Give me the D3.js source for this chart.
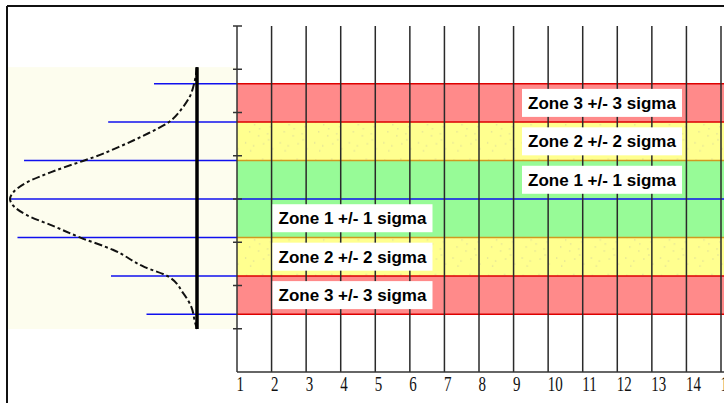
<!DOCTYPE html>
<html><head><meta charset="utf-8">
<script src="https://cdn.jsdelivr.net/npm/d3@7"></script>
<style>html,body{margin:0;padding:0;background:#fff;}svg{display:block;}</style>
</head><body>
<script>
// ---- data ----
const categories = [1,2,3,4,5,6,7,8,9,10,11,12,13,14,15];
const yTicks = [1,2,3,4,5,6,7,8];
const centerValue = 4;
const sigmaValue = 8/9;
// zone edges in sigma units (from -3 to +3)
const zoneEdgesSigma = [-3,-2,-1,0,1,2,3];
const zoneNames = ["Zone 3 +/- 3 sigma","Zone 2 +/- 2 sigma","Zone 1 +/- 1 sigma"];
// bands: [lowSigma, highSigma, zone]
const bandLow  = [-3,-2,-1,0,1,2];
const bandHigh = [-2,-1,0,1,2,3];
const bandZone = [3,2,1,1,2,3];
// labels: which band (by sigma low) and side
const labelBandLow = [2,1,0,-1,-2,-3];
const labelZone    = [3,2,1,1,2,3];
const labelSide    = ["right","right","right","left","left","left"];
// bell curve: sigma offset vs relative density
const curveSigma   = [3.43,3.01,2.65,2.39,1.97,1.71,1.35,1.09,0.99,0.70,0.42,0.16,0,-0.16,-0.42,-0.70,-1.01,-1.32,-1.77,-2.0,-2.44,-2.81,-3.22,-3.38];
const curveDensity = [0,0.015,0.04,0.075,0.16,0.26,0.42,0.55,0.61,0.78,0.915,0.985,1.0,0.985,0.91,0.77,0.62,0.45,0.28,0.16,0.075,0.03,0.01,0];
// reach of the blue guide lines at each edge (relative density units)
const guideReach = [0.27,0.46,0.96,1.0,0.925,0.475,0.23];

// ---- layout ----
const W = 724, H = 403;
const svg = d3.select("body").append("svg").attr("width",W).attr("height",H);
const x = d3.scaleLinear().domain([1,15]).range([237,721]);
const y = d3.scaleLinear().domain([0,8]).range([372,26]);
const ys = s => y(centerValue + s*sigmaValue);
const dx = d3.scaleLinear().domain([0,1]).range([197,10]);

const defs = svg.append("defs");
const pat = defs.append("pattern").attr("id","dots").attr("patternUnits","userSpaceOnUse").attr("width",34.57).attr("height",38.4);
pat.append("rect").attr("width",34.57).attr("height",38.4).attr("fill","#ffff8f");
[[4,6],[12,9],[20,5],[28,11],[7,16],[16,20],[25,18],[3,27],[11,30],[21,28],[30,33],[8,35],[17,13],[26,24]].forEach(p=>{
  pat.append("rect").attr("x",p[0]).attr("y",p[1]).attr("width",1.2).attr("height",1.2).attr("fill","#d9d99a");
});

// pale background behind the curve
svg.append("rect").attr("x",8).attr("y",ys(3.43)).attr("width",229).attr("height",ys(-3.38)-ys(3.43)).attr("fill","#fdfdee");

// bands
const bandColor = {3:"#ff8a8a",2:"url(#dots)",1:"#97fb97"};
bandLow.forEach((lo,i)=>{
  svg.append("rect").attr("x",x(1)).attr("y",ys(bandHigh[i])).attr("width",W-x(1))
    .attr("height",ys(lo)-ys(bandHigh[i])).attr("fill",bandColor[bandZone[i]]);
});
// band edges
zoneEdgesSigma.forEach(s=>{
  if (s===0) return;
  const c = Math.abs(s)===1 ? "#d09a20" : "#dd0000";
  svg.append("line").attr("x1",x(1)).attr("x2",W).attr("y1",ys(s)).attr("y2",ys(s)).attr("stroke",c).attr("stroke-width",1.5);
});

// blue guide lines
zoneEdgesSigma.forEach((s,i)=>{
  svg.append("line").attr("x1",dx(guideReach[i])).attr("x2",s===0?W:x(1))
    .attr("y1",ys(s)).attr("y2",ys(s)).attr("stroke","#1010ee").attr("stroke-width",1.5);
});

// vertical grid lines
categories.slice(1).forEach(c=>{
  svg.append("line").attr("x1",x(c)).attr("x2",x(c)).attr("y1",y(8)).attr("y2",y(0)).attr("stroke","#2a2a2a").attr("stroke-width",1.5);
});
// axes
svg.append("line").attr("x1",x(1)).attr("x2",x(1)).attr("y1",y(8)).attr("y2",y(0)).attr("stroke","#333").attr("stroke-width",1.5);
svg.append("line").attr("x1",x(1)).attr("x2",W).attr("y1",y(0)).attr("y2",y(0)).attr("stroke","#333").attr("stroke-width",1.5);
yTicks.forEach(t=>{
  svg.append("line").attr("x1",x(1)-4).attr("x2",x(1)+5).attr("y1",y(t)).attr("y2",y(t)).attr("stroke","#333").attr("stroke-width",1.5);
});
categories.forEach(c=>{
  svg.append("text").attr("transform",`translate(${x(c)-0.5},${y(0)+19}) scale(1,1.38)`)
    .attr("font-family","Liberation Serif, Times New Roman, serif").attr("font-size",15).attr("fill","#111").text(c);
});

// bell curve
const line = d3.line().x((d,i)=>dx(curveDensity[i])).y((d,i)=>ys(curveSigma[i])).curve(d3.curveMonotoneY);
svg.append("path").attr("d",line(curveSigma)).attr("fill","none").attr("stroke","#111").attr("stroke-width",2).attr("stroke-dasharray","8,3,3,3");
// thick black bar
svg.append("line").attr("x1",dx(0)).attr("x2",dx(0)).attr("y1",ys(3.43)).attr("y2",ys(-3.38)).attr("stroke","#000").attr("stroke-width",3.5);

// outer frame
svg.append("line").attr("x1",7).attr("x2",W).attr("y1",6).attr("y2",6).attr("stroke","#111").attr("stroke-width",2);
svg.append("line").attr("x1",7).attr("x2",7).attr("y1",6).attr("y2",H).attr("stroke","#111").attr("stroke-width",2);

// labels
labelBandLow.forEach((lo,i)=>{
  const cy = (ys(lo)+ys(lo+1))/2;
  const cx = labelSide[i]==="right" ? 602 : 352.5;
  const bw = 160, bh = 28;
  svg.append("rect").attr("x",cx-bw/2).attr("y",cy-bh/2).attr("width",bw).attr("height",bh).attr("fill","#fff");
  svg.append("text").attr("x",cx).attr("y",cy+6).attr("text-anchor","middle")
    .attr("font-family","Liberation Sans, Arial, sans-serif").attr("font-weight","bold").attr("font-size",17)
    .attr("fill","#000").text(zoneNames[3-labelZone[i]]);
});
</script>
</body></html>
